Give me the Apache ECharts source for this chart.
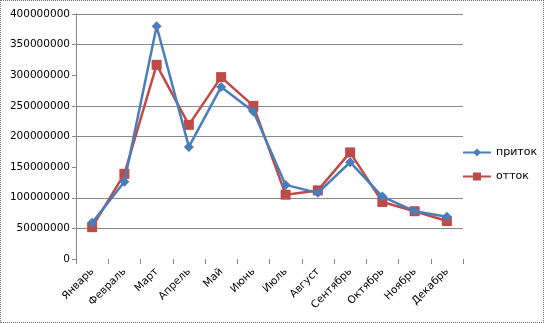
<!DOCTYPE html>
<html>
<head>
<meta charset="utf-8">
<script src="https://cdn.jsdelivr.net/npm/echarts@6/dist/echarts.min.js"></script>
<style>
  html, body { margin: 0; padding: 0; background: #fff; }
  #chart { width: 542px; height: 321px; border: 1px dotted #6f6f6f; }
</style>
</head>
<body>
<div id="chart"></div>
<script>
// Monthly inflow / outflow
const months = ['Январь', 'Февраль', 'Март', 'Апрель', 'Май', 'Июнь',
                'Июль', 'Август', 'Сентябрь', 'Октябрь', 'Ноябрь', 'Декабрь'];
const inflow  = [59000000, 126000000, 380000000, 183000000, 281000000, 241000000,
                 121000000, 108000000, 158000000, 102000000, 78000000, 69000000];
const outflow = [52000000, 139000000, 317000000, 219000000, 297000000, 250000000,
                 105000000, 112000000, 174000000, 93000000, 78000000, 62000000];
const seriesNames = ['приток', 'отток'];

const chart = echarts.init(document.getElementById('chart'));
const font = 'DejaVu Sans';

chart.setOption({
  animation: false,
  textStyle: { fontFamily: font },
  grid: { left: 75, right: 80, top: 13, bottom: 63 },
  legend: {
    orient: 'vertical',
    left: 456,
    top: 141,
    itemWidth: 28,
    itemHeight: 10,
    itemGap: 13,
    textStyle: { fontFamily: font, fontSize: 11, color: '#000' },
    data: seriesNames
  },
  xAxis: {
    type: 'category',
    data: months,
    boundaryGap: true,
    axisLine: { show: false },
    axisTick: { show: true, length: 5, lineStyle: { color: '#888' } },
    axisLabel: { rotate: 45, fontSize: 10.5, color: '#000', fontFamily: font, margin: 11 }
  },
  yAxis: {
    type: 'value',
    min: 0, max: 400000000, interval: 50000000,
    axisLine: { show: true, lineStyle: { color: '#888' } },
    axisTick: { show: true, length: 4, lineStyle: { color: '#888' } },
    axisLabel: {
      fontSize: 10.5, color: '#000', fontFamily: font, margin: 6,
      formatter: v => String(v)
    },
    splitLine: {
      show: true,
      lineStyle: {
        width: 1,
        color: ['transparent', '#8a8a8a', '#8a8a8a', 'transparent', '#8a8a8a',
                '#8a8a8a', 'transparent', '#8a8a8a', '#8a8a8a']
      }
    }
  },
  series: [
    {
      name: seriesNames[0],
      type: 'line',
      data: inflow,
      symbol: 'diamond',
      symbolSize: 10,
      lineStyle: { color: '#4a7ebb', width: 2.5 },
      itemStyle: { color: '#4a7ebb' },
      z: 3
    },
    {
      name: seriesNames[1],
      type: 'line',
      data: outflow,
      symbol: 'rect',
      symbolSize: 10,
      lineStyle: { color: '#be4b48', width: 2.5 },
      itemStyle: { color: '#be4b48' },
      z: 2
    }
  ]
});
</script>
</body>
</html>
